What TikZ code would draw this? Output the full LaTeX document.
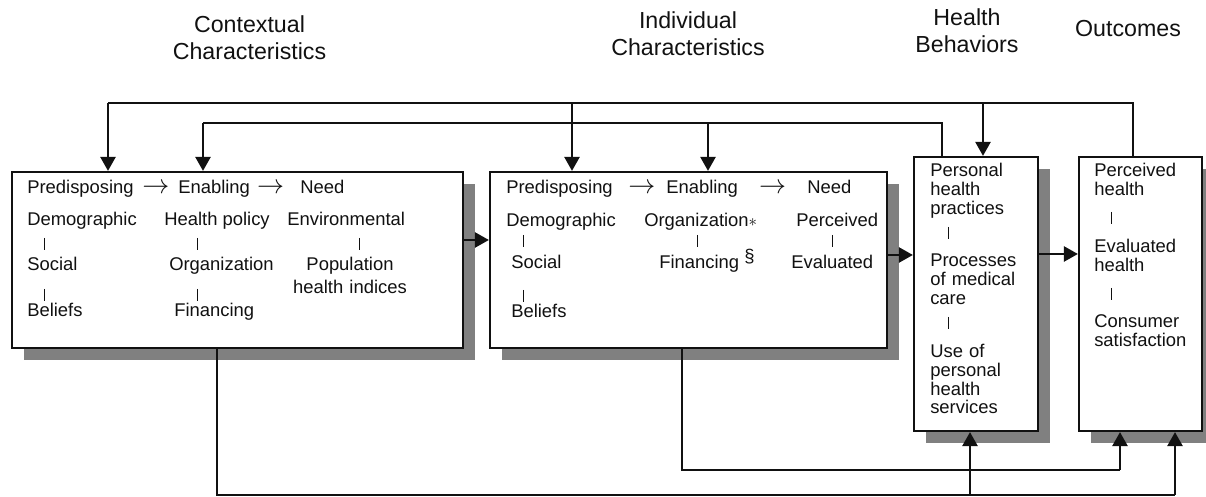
\documentclass[tikz,border=0pt]{standalone}
\usepackage{fontspec}
\setmainfont{Liberation Sans}
\usetikzlibrary{arrows.meta,shadows}

\definecolor{ink}{HTML}{111111}
\definecolor{shade}{HTML}{808080}

\begin{document}
\begin{tikzpicture}[
    panel/.style={draw=ink, line width=1.6pt, fill=white, inner sep=0pt,
        drop shadow={shadow xshift=0.3cm, shadow yshift=-0.3cm, fill=shade, opacity=1}},
    txt/.style={font=\fontsize{13.1}{13.2}\selectfont, text=ink, inner sep=0pt, anchor=base west},
    stack/.style={txt, text width=3cm, align=left},
    hdr/.style={font=\fontsize{16.5}{19.2}\selectfont, text=ink, inner sep=0pt,
        anchor=base, text width=5cm, align=center},
    link/.style={draw=ink, line width=1.4pt},
    conn/.style={link, -{Triangle[length=0.35cm, width=0.38cm]}},
    tick/.style={draw=ink, line width=0.7pt},
]
\useasboundingbox (0,0) rectangle (30.15,12.425);

% Column headers
\node[hdr] (hCtx) at (6.2375,11.6) {Contextual\\Characteristics};
\node[hdr] (hInd) at (17.2,11.7) {Individual\\Characteristics};
\node[hdr] (hBeh) at (24.175,11.775) {Health\\Behaviors};
\node[hdr] (hOut) at (28.2,11.5) {Outcomes};

% Panels
\node[panel, minimum width=11.275cm, minimum height=4.4cm] (ctx) at (5.9375,5.925) {};
\node[panel, minimum width=9.925cm, minimum height=4.4cm] (ind) at (17.2125,5.925) {};
\node[panel, minimum width=3.1cm, minimum height=6.85cm] (beh) at (24.4,5.075) {};
\node[panel, minimum width=3.075cm, minimum height=6.85cm] (out) at (28.5125,5.075) {};

% Contextual characteristics
\foreach \n/\x/\y/\t in {
    cPre/0.675/7.575/Predisposing, cArA/3.55/7.575/\scalebox{1.6}{$\rightarrow$},
    cEna/4.45/7.575/Enabling, cArB/6.42/7.575/\scalebox{1.6}{$\rightarrow$}, cNeed/7.5/7.575/Need,
    cDem/0.675/6.775/Demographic, cPol/4.1/6.775/Health policy,
    cEnv/7.175/6.775/Environmental,
    cSoc/0.675/5.65/Social, cOrg/4.225/5.65/Organization,
    cBel/0.675/4.5/Beliefs, cFin/4.35/4.5/Financing} {
    \node[txt] (\n) at (\x,\y) {\t};
}
\node[txt, anchor=base, text width=3.5cm, align=center] (cPop) at (8.75,5.65)
    {Population\\[3pt]health indices};

% Individual characteristics
\foreach \n/\x/\y/\t in {
    iPre/12.65/7.575/Predisposing, iArA/15.7/7.575/\scalebox{1.6}{$\rightarrow$},
    iEna/16.65/7.575/Enabling, iArB/18.97/7.575/\scalebox{1.6}{$\rightarrow$}, iNeed/20.175/7.575/Need,
    iDem/12.65/6.75/Demographic, iOrg/16.1/6.75/Organization$*$,
    iPer/19.9/6.75/Perceived,
    iSoc/12.775/5.7/Social, iFin/16.475/5.7/Financing \raisebox{0.35em}{\S},
    iEva/19.775/5.7/Evaluated,
    iBel/12.775/4.475/Beliefs} {
    \node[txt] (\n) at (\x,\y) {\t};
}

% Health behaviors and outcomes
\node[stack] (bPra) at (23.25,8.0) {Personal\\health\\practices};
\node[stack] (bPro) at (23.25,5.75) {Processes\\of medical\\care};
\node[stack] (bUse) at (23.25,3.475) {Use of\\personal\\health\\services};
\node[stack] (oPer) at (27.35,8.0) {Perceived\\health};
\node[stack] (oEva) at (27.35,6.1) {Evaluated\\health};
\node[stack] (oCon) at (27.35,4.225) {Consumer\\satisfaction};

% Small ticks between items
\foreach \x/\y in {
    1.1/6.475, 4.925/6.475, 8.975/6.475, 1.1/5.2, 4.925/5.2,
    13.075/6.55, 17.425/6.55, 20.8/6.55, 13.075/5.175,
    23.7/6.75, 23.7/4.5, 27.775/7.125, 27.775/5.225} {
    \draw[tick] (\x,\y) -- ++(0,-0.3);
}

% Forward flow
\draw[conn] ([yshift=0.5cm]ctx.east) -- ([yshift=0.5cm]ctx.east -| ind.west);
\draw[conn] ([yshift=0.125cm]ind.east) -- ([yshift=0.125cm]ind.east -| beh.west);
\draw[conn] ([yshift=1cm]beh.east) -- ([yshift=1cm]beh.east -| out.west);

% Feedback loops above
\coordinate (topA) at (2.7,9.85);
\coordinate (topB) at (14.3,9.85);
\coordinate (topC) at (24.575,9.85);
\coordinate (topD) at (28.325,9.85);
\coordinate (topE) at (5.075,9.35);
\coordinate (topF) at (17.7,9.35);
\coordinate (topG) at (23.55,9.35);
\draw[link] (out.north -| topD) -- (topD) -- (topA);
\draw[conn] (topA) -- (topA |- ctx.north);
\draw[conn] (topB) -- (topB |- ind.north);
\draw[conn] (topC) -- (topC |- beh.north);
\draw[link] (beh.north -| topG) -- (topG) -- (topE);
\draw[conn] (topE) -- (topE |- ctx.north);
\draw[conn] (topF) -- (topF |- ind.north);

% Links below
\coordinate (botA) at (5.425,0.05);
\coordinate (botB) at (29.375,0.05);
\coordinate (botC) at (24.25,0.05);
\coordinate (botD) at (17.05,0.675);
\coordinate (botE) at (28.0,0.675);
\draw[link] (ctx.south -| botA) -- (botA) -- (botB);
\draw[conn] (botB) -- (botB |- out.south);
\draw[conn] (botC) -- (botC |- beh.south);
\draw[link] (ind.south -| botD) -- (botD) -- (botE);
\draw[conn] (botE) -- (botE |- out.south);

\end{tikzpicture}
\end{document}
